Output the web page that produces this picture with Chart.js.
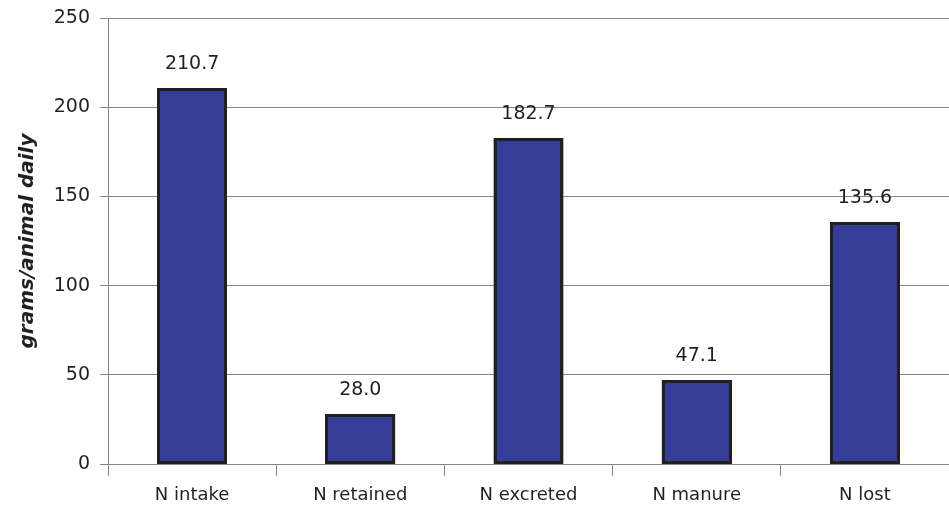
<!DOCTYPE html>
<html>
<head>
<meta charset="utf-8">
<script src="https://cdn.jsdelivr.net/npm/chart.js@4/dist/chart.umd.min.js"></script>
<style>
  html, body { margin: 0; padding: 0; background: #fff; }
  #wrap { width: 949px; height: 506px; }
</style>
</head>
<body>
<div id="wrap"><canvas id="chart" width="949" height="506"></canvas></div>
<script>
const categories = ["N intake", "N retained", "N excreted", "N manure", "N lost"];
const values = [210.7, 28.0, 182.7, 47.1, 135.6];
const yTicks = [0, 50, 100, 150, 200, 250];

const textColor = "#231f20";
const gridColor = "#858585";
const fontFamily = "'DejaVu Sans', sans-serif";

// crisp bar outlines + value labels above each bar
const valueLabels = {
  id: "valueLabels",
  afterDatasetsDraw(chart) {
    const ctx = chart.ctx;
    const meta = chart.getDatasetMeta(0);
    ctx.save();
    ctx.strokeStyle = "#231f20";
    ctx.lineWidth = 3;
    meta.data.forEach((bar) => {
      const l = Math.round(bar.x - bar.width / 2);
      const r = Math.round(bar.x + bar.width / 2);
      const t = Math.round(bar.y);
      const b = Math.round(bar.base);
      ctx.strokeRect(l + 1.5, t + 1.5, r - l - 3, b - t - 3);
    });
    ctx.fillStyle = textColor;
    ctx.font = "19px " + fontFamily;
    ctx.textAlign = "center";
    ctx.textBaseline = "alphabetic";
    meta.data.forEach((bar, i) => {
      ctx.fillText(values[i].toFixed(1), bar.x, bar.y - 19);
    });
    ctx.restore();
  },
};

new Chart(document.getElementById("chart"), {
  type: "bar",
  data: {
    labels: categories,
    datasets: [
      {
        data: values,
        backgroundColor: "#353e96",
        borderWidth: 0,
        categoryPercentage: 0.83,
        barPercentage: 0.5,
      },
    ],
  },
  options: {
    responsive: false,
    animation: false,
    layout: { padding: { top: 18, right: 0, left: 0, bottom: 0 } },
    plugins: {
      legend: { display: false },
      tooltip: { enabled: false },
    },
    scales: {
      x: {
        grid: {
          offset: true,
          drawOnChartArea: false,
          drawTicks: true,
          tickLength: 12,
          color: gridColor,
        },
        border: { color: gridColor },
        ticks: {
          color: textColor,
          font: { family: fontFamily, size: 18 },
          padding: 9,
        },
        afterFit: (scale) => { scale.height = 42; },
      },
      y: {
        min: 0,
        max: 250,
        afterBuildTicks: (scale) => {
          scale.ticks = yTicks.map((v) => ({ value: v }));
        },
        grid: {
          color: gridColor,
          tickLength: 8,
        },
        border: { color: gridColor },
        ticks: {
          color: textColor,
          font: { family: fontFamily, size: 19 },
          padding: 10,
        },
        title: {
          display: true,
          text: "grams/animal daily",
          color: textColor,
          font: { family: fontFamily, size: 20, weight: "bold", style: "italic" },
          padding: { top: 16, bottom: 0 },
        },
        afterFit: (scale) => {
          scale.width = 108;
          scale.paddingTop = 0;
          scale.paddingBottom = 0;
        },
      },
    },
  },
  plugins: [valueLabels],
});
</script>
</body>
</html>
